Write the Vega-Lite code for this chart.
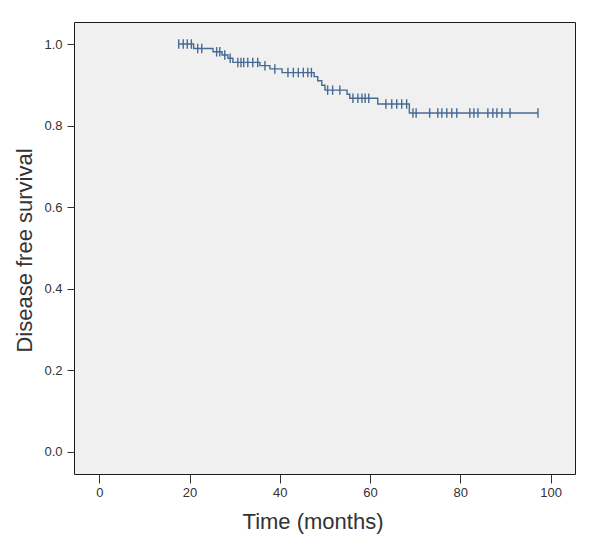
{
  "$schema": "https://vega.github.io/schema/vega-lite/v6.json",
  "width": 501,
  "height": 452,
  "autosize": {"type": "none"},
  "padding": {"left": 74, "top": 22, "right": 25, "bottom": 73},
  "background": "#ffffff",
  "config": {
    "view": {"fill": "#f0f0f0", "stroke": "#1a1a1a", "strokeWidth": 1},
    "axis": {
      "grid": false,
      "domain": false,
      "labelFont": "Liberation Sans",
      "titleFont": "Liberation Sans",
      "labelColor": "#333333",
      "titleColor": "#333333",
      "tickColor": "#333333",
      "labelFontSize": 13,
      "titleFontSize": 22,
      "titleFontWeight": "normal"
    }
  },
  "data": {
    "values": [
      {"time": 17.6, "survival": 1.0, "censored": true},
      {"time": 18.6, "survival": 1.0, "censored": true},
      {"time": 19.5, "survival": 1.0, "censored": true},
      {"time": 20.4, "survival": 1.0, "censored": true},
      {"time": 20.9, "survival": 0.989, "censored": false},
      {"time": 21.8, "survival": 0.989, "censored": true},
      {"time": 22.7, "survival": 0.989, "censored": true},
      {"time": 25.2, "survival": 0.981, "censored": false},
      {"time": 26.0, "survival": 0.981, "censored": true},
      {"time": 26.7, "survival": 0.981, "censored": true},
      {"time": 27.2, "survival": 0.973, "censored": false},
      {"time": 27.8, "survival": 0.973, "censored": true},
      {"time": 28.5, "survival": 0.965, "censored": false},
      {"time": 29.0, "survival": 0.965, "censored": true},
      {"time": 29.6, "survival": 0.955, "censored": false},
      {"time": 30.7, "survival": 0.955, "censored": true},
      {"time": 31.4, "survival": 0.955, "censored": true},
      {"time": 32.0, "survival": 0.955, "censored": true},
      {"time": 32.9, "survival": 0.955, "censored": true},
      {"time": 34.0, "survival": 0.955, "censored": true},
      {"time": 35.1, "survival": 0.955, "censored": true},
      {"time": 35.6, "survival": 0.947, "censored": false},
      {"time": 36.7, "survival": 0.947, "censored": true},
      {"time": 37.8, "survival": 0.939, "censored": false},
      {"time": 38.9, "survival": 0.939, "censored": true},
      {"time": 40.5, "survival": 0.930, "censored": false},
      {"time": 41.8, "survival": 0.930, "censored": true},
      {"time": 43.0, "survival": 0.930, "censored": true},
      {"time": 44.1, "survival": 0.930, "censored": true},
      {"time": 45.2, "survival": 0.930, "censored": true},
      {"time": 46.2, "survival": 0.930, "censored": true},
      {"time": 47.0, "survival": 0.930, "censored": true},
      {"time": 47.6, "survival": 0.920, "censored": false},
      {"time": 48.4, "survival": 0.910, "censored": false},
      {"time": 49.3, "survival": 0.899, "censored": false},
      {"time": 50.0, "survival": 0.887, "censored": false},
      {"time": 50.6, "survival": 0.887, "censored": true},
      {"time": 51.7, "survival": 0.887, "censored": true},
      {"time": 53.3, "survival": 0.887, "censored": true},
      {"time": 54.9, "survival": 0.877, "censored": false},
      {"time": 55.5, "survival": 0.867, "censored": false},
      {"time": 56.2, "survival": 0.867, "censored": true},
      {"time": 57.3, "survival": 0.867, "censored": true},
      {"time": 58.2, "survival": 0.867, "censored": true},
      {"time": 58.9, "survival": 0.867, "censored": true},
      {"time": 59.7, "survival": 0.867, "censored": true},
      {"time": 61.7, "survival": 0.853, "censored": false},
      {"time": 63.5, "survival": 0.853, "censored": true},
      {"time": 64.8, "survival": 0.853, "censored": true},
      {"time": 65.9, "survival": 0.853, "censored": true},
      {"time": 67.0, "survival": 0.853, "censored": true},
      {"time": 68.1, "survival": 0.853, "censored": true},
      {"time": 68.7, "survival": 0.831, "censored": false},
      {"time": 69.5, "survival": 0.831, "censored": true},
      {"time": 70.2, "survival": 0.831, "censored": true},
      {"time": 73.2, "survival": 0.831, "censored": true},
      {"time": 75.0, "survival": 0.831, "censored": true},
      {"time": 75.9, "survival": 0.831, "censored": true},
      {"time": 77.0, "survival": 0.831, "censored": true},
      {"time": 78.1, "survival": 0.831, "censored": true},
      {"time": 79.2, "survival": 0.831, "censored": true},
      {"time": 82.1, "survival": 0.831, "censored": true},
      {"time": 83.0, "survival": 0.831, "censored": true},
      {"time": 83.9, "survival": 0.831, "censored": true},
      {"time": 86.1, "survival": 0.831, "censored": true},
      {"time": 87.2, "survival": 0.831, "censored": true},
      {"time": 88.1, "survival": 0.831, "censored": true},
      {"time": 89.2, "survival": 0.831, "censored": true},
      {"time": 91.0, "survival": 0.831, "censored": true},
      {"time": 97.2, "survival": 0.831, "censored": true}
    ]
  },
  "encoding": {
    "x": {
      "field": "time",
      "type": "quantitative",
      "scale": {"domain": [-5.6, 105.4], "nice": false, "zero": false},
      "axis": {
        "title": "Time (months)",
        "values": [0, 20, 40, 60, 80, 100],
        "tickSize": 9,
        "labelPadding": 3,
        "titleX": 238.5,
        "titleY": 54,
        "titleBaseline": "alphabetic",
        "titleAlign": "center"
      }
    },
    "y": {
      "field": "survival",
      "type": "quantitative",
      "scale": {"domain": [-0.054, 1.054], "nice": false, "zero": false},
      "axis": {
        "title": "Disease free survival",
        "values": [0, 0.2, 0.4, 0.6, 0.8, 1.0],
        "format": ".1f",
        "tickSize": 7,
        "labelPadding": 5,
        "titleX": -43,
        "titleY": 228,
        "titleAngle": -90,
        "titleBaseline": "alphabetic",
        "titleAlign": "center"
      }
    }
  },
  "layer": [
    {
      "mark": {"type": "line", "interpolate": "step-after", "color": "#456a94", "strokeWidth": 1.4}
    },
    {
      "transform": [{"filter": "datum.censored"}],
      "mark": {"type": "point", "shape": "M0,-1L0,1", "size": 90, "filled": false, "color": "#456a94", "strokeWidth": 1.4, "opacity": 1}
    }
  ]
}
